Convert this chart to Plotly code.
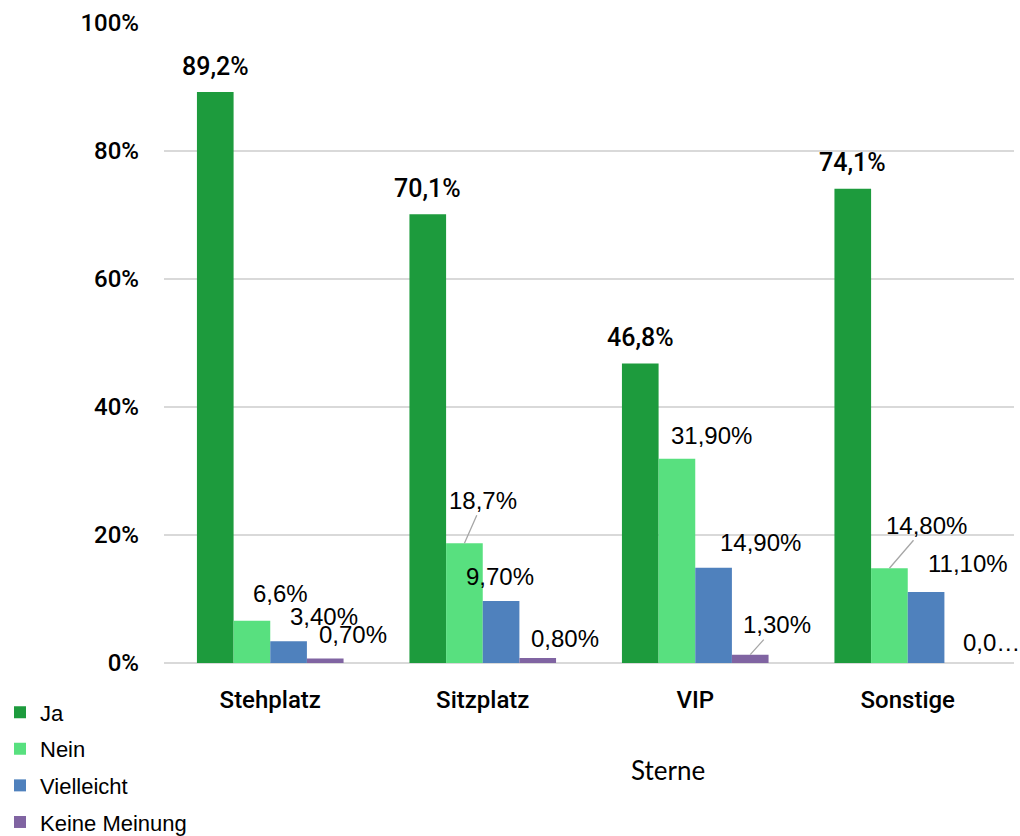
import plotly.graph_objects as go

categories = ["Stehplatz", "Sitzplatz", "VIP", "Sonstige"]
series_names = ["Ja", "Nein", "Vielleicht", "Keine Meinung"]
ja = [89.2, 70.1, 46.8, 74.1]
nein = [6.6, 18.7, 31.9, 14.8]
vielleicht = [3.4, 9.7, 14.9, 11.1]
keine_meinung = [0.7, 0.8, 1.3, 0.0]

ja_labels = ["89,2%", "70,1%", "46,8%", "74,1%"]
nein_labels = ["6,6%", "18,7%", "31,90%", "14,80%"]
vielleicht_labels = ["3,40%", "9,70%", "14,90%", "11,10%"]
keine_labels = ["0,70%", "0,80%", "1,30%", "0,0…"]

y_ticks = [0, 20, 40, 60, 80, 100]
y_tick_text = ["0%", "20%", "40%", "60%", "80%", "100%"]

colors = ["#1d9b3d", "#58e07f", "#4f81bd", "#8064a2"]

NARROW = "Roboto, Liberation Sans Narrow, sans-serif"
REGULAR = "Liberation Sans, Arial, sans-serif"

BARGAP = 0.31
n_series = 4
bar_w = (1 - BARGAP) / n_series

x_idx = list(range(len(categories)))
series_values = [ja, nein, vielleicht, keine_meinung]

fig = go.Figure()
for name, vals, col in zip(series_names, series_values, colors):
    fig.add_trace(go.Bar(
        x=x_idx, y=vals, name=name, marker=dict(color=col, line=dict(width=0)),
        legendgroup=name,
    ))

def bar_x(cat, s):
    return cat + (s - (n_series - 1) / 2) * bar_w

annotations = []

# value labels above the "Ja" bars
for i, (v, t) in enumerate(zip(ja, ja_labels)):
    annotations.append(dict(
        x=bar_x(i, 0), y=v, text=t, showarrow=False, yanchor="middle",
        xanchor="center", yshift=26,
        font=dict(family=NARROW, size=25, weight=500, color="#000000"),
    ))

# pixel offsets of the remaining labels (dx, dy) and whether a leader line is drawn
offsets = {
    1: [(29, 27, False), (19, 43, True), (35, 23, False), (37, 43, True)],
    2: [(35, 25, False), (-1, 24, False), (47, 25, False), (42, 28, False)],
    3: [(28, 24, False), (27, 19, False), (27, 30, True), (None, 21, False)],
}
label_sets = {1: nein_labels, 2: vielleicht_labels, 3: keine_labels}

for s in (1, 2, 3):
    vals = series_values[s]
    for i, v in enumerate(vals):
        dx, dy, leader = offsets[s][i]
        text = label_sets[s][i]
        fnt = dict(family=REGULAR, size=24, color="#000000")
        if leader:
            annotations.append(dict(
                x=bar_x(i, s), y=v, text=text, showarrow=True, arrowhead=0,
                arrowwidth=1.3, arrowcolor="#a6a6a6", ax=dx, ay=-dy,
                standoff=0, startstandoff=0, font=fnt,
            ))
        elif dx is None:
            annotations.append(dict(
                x=bar_x(i, s), y=v, text=text, showarrow=False, xanchor="left",
                yanchor="middle", xshift=-2, yshift=dy, font=fnt,
            ))
        else:
            annotations.append(dict(
                x=bar_x(i, s), y=v, text=text, showarrow=False, xanchor="center",
                yanchor="middle", xshift=dx, yshift=dy, font=fnt,
            ))

annotations.append(dict(
    xref="paper", yref="paper", x=(668 - 164) / 850, y=-(770 - 663) / 640,
    text="Sterne", showarrow=False, xanchor="center", yanchor="middle",
    font=dict(family="Lato, Open Sans, sans-serif", size=26, color="#000000"),
))

fig.update_layout(
    width=1020, height=836,
    margin=dict(l=164, r=6, t=23, b=173, pad=0, autoexpand=False),
    paper_bgcolor="#ffffff", plot_bgcolor="#ffffff",
    barmode="group", bargap=BARGAP, bargroupgap=0,
    showlegend=True,
    legend=dict(
        xref="container", yref="container", x=0, y=0.173,
        xanchor="left", yanchor="top", orientation="v",
        font=dict(family=REGULAR, size=22, color="#000000"),
        tracegroupgap=5, bgcolor="rgba(0,0,0,0)",
    ),
    annotations=annotations,
    xaxis=dict(
        range=[-0.5, 3.5], tickvals=x_idx, ticktext=categories,
        showgrid=False, zeroline=False, showline=False, ticks="",
        ticklabelstandoff=20,
        tickfont=dict(family=NARROW, size=24, weight=500, color="#000000"),
    ),
    yaxis=dict(
        range=[0, 100], tickvals=y_ticks, ticktext=y_tick_text,
        showgrid=True, gridcolor="#d9d9d9", gridwidth=2,
        zeroline=True, zerolinecolor="#d9d9d9", zerolinewidth=2,
        showline=False, ticks="", ticklabelstandoff=24,
        tickfont=dict(family=NARROW, size=24, weight=500, color="#000000"),
    ),
)

fig.write_html("out.html")
